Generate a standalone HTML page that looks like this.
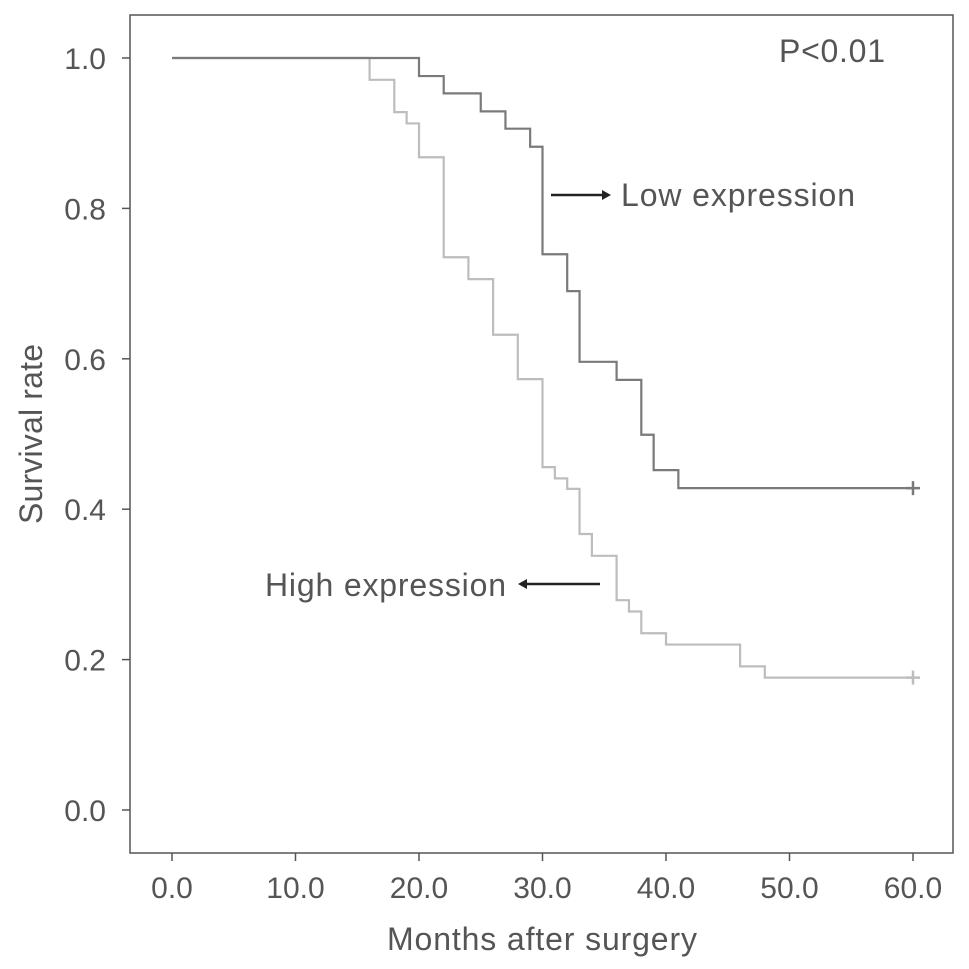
<!DOCTYPE html>
<html><head><meta charset="utf-8"><style>
html,body{margin:0;padding:0;background:#fff}
svg{display:block;font-family:"Liberation Sans",sans-serif}
</style></head><body>
<svg id="chart" width="969" height="969">
<rect x="130" y="15" width="823" height="838" fill="none" stroke="#555" stroke-width="1.5"/>
<g id="axes"></g>
<g id="series"></g>
<text x="832" y="62" font-size="32" fill="#555" text-anchor="middle" textLength="106">P&lt;0.01</text>
<line x1="551" y1="195" x2="604" y2="195" stroke="#222" stroke-width="2.5"/>
<polygon points="611,195 602,190 602,200" fill="#222"/>
<text x="621" y="206" font-size="32" fill="#555" textLength="234">Low expression</text>
<line x1="600" y1="584" x2="525" y2="584" stroke="#222" stroke-width="2.5"/>
<polygon points="518,584 527,579 527,589" fill="#222"/>
<text x="265" y="596" font-size="32" fill="#555" textLength="241">High expression</text>
<text x="542" y="950" font-size="32" fill="#555" text-anchor="middle" textLength="310">Months after surgery</text>
<text x="42" y="434" font-size="32" fill="#555" text-anchor="middle" textLength="180" transform="rotate(-90 42 434)">Survival rate</text>
</svg>
<script>
const xTicks=[0,10,20,30,40,50,60];
const xTickLabels=["0.0","10.0","20.0","30.0","40.0","50.0","60.0"];
const yTicks=[0,0.2,0.4,0.6,0.8,1.0];
const yTickLabels=["0.0","0.2","0.4","0.6","0.8","1.0"];
const lowTimes=[0,20,22,25,27,29,30,32,33,36,38,39,41,60];
const lowSurv=[1.0,0.976,0.953,0.929,0.906,0.882,0.739,0.690,0.596,0.572,0.499,0.452,0.428,0.428];
const highTimes=[0,16,18,19,20,22,24,26,28,30,31,32,33,34,36,37,38,40,46,48,60];
const highSurv=[1.0,0.971,0.928,0.913,0.868,0.735,0.706,0.632,0.573,0.456,0.441,0.427,0.367,0.338,0.279,0.264,0.235,0.220,0.191,0.176,0.176];
const NS="http://www.w3.org/2000/svg";
function sx(t){return 172+t*(913-172)/60;}
function sy(v){return 810-v*(810-58);}
const axes=document.getElementById('axes'),series=document.getElementById('series');
function mk(tag,attrs,parent){const e=document.createElementNS(NS,tag);for(const k in attrs)e.setAttribute(k,attrs[k]);parent.appendChild(e);return e;}
xTicks.forEach((t,i)=>{
  const l=mk('line',{x1:sx(t),x2:sx(t),y1:853,y2:861,stroke:'#555','stroke-width':1.5},axes);
  
  
  const tx=mk('text',{x:sx(t),y:898,'font-size':30,fill:'#555','text-anchor':'middle'},axes);
  tx.textContent=xTickLabels[i];
  
  
});
yTicks.forEach((v,i)=>{
  const l=mk('line',{x1:122,x2:130,y1:sy(v),y2:sy(v),stroke:'#555','stroke-width':1.5},axes);
  
  
  const tx=mk('text',{x:106,y:sy(v)+11,'font-size':30,fill:'#555','text-anchor':'end'},axes);
  tx.textContent=yTickLabels[i];
  
  
});
function step(times,surv,color,name){
  let d='M'+sx(times[0])+','+sy(surv[0]);
  for(let i=1;i<times.length;i++){d+=' H'+sx(times[i])+' V'+sy(surv[i]);}
  const p=mk('path',{d:d,fill:'none',stroke:color,'stroke-width':2.2},series);
  
  
  const n=times.length-1,cx=sx(times[n]),cy=sy(surv[n]);
  const c=mk('path',{d:`M${cx-7},${cy} H${cx+7} M${cx},${cy-7} V${cy+7}`,stroke:color,'stroke-width':2.5},series);
  
  
}
step(highTimes,highSurv,'#bdbdbd','high-expression');
step(lowTimes,lowSurv,'#7a7a7a','low-expression');
</script>
</body></html>
